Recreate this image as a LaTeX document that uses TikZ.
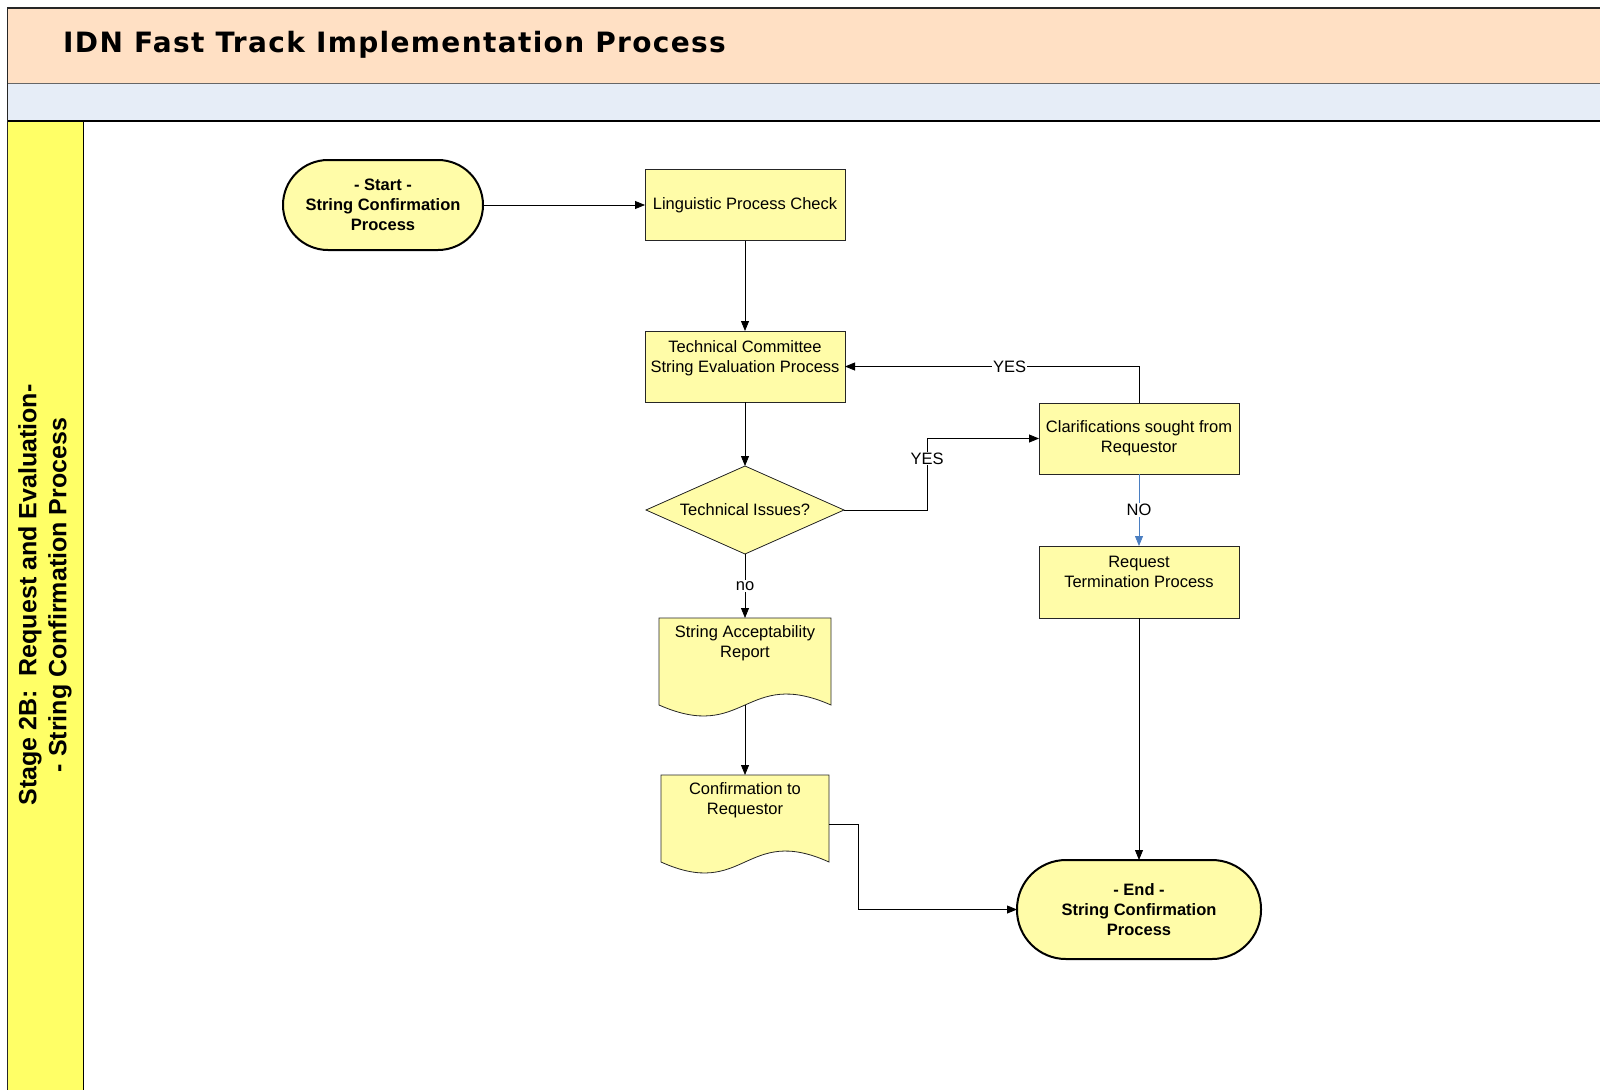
\documentclass[tikz,border=0pt]{standalone}
\usepackage{fontspec}
\setmainfont{Liberation Sans}
\newfontfamily\titlefont[LetterSpace=4.8]{DejaVu Sans}
\usetikzlibrary{arrows.meta,shapes.geometric,calc,backgrounds}
\definecolor{hdr}{HTML}{FFE0C4}
\definecolor{band}{HTML}{E6EDF7}
\definecolor{lanecol}{HTML}{FFFF66}
\definecolor{nodefill}{HTML}{FFFCA8}
\definecolor{noblue}{HTML}{4A7EC1}
\newcommand{\nfont}{\fontsize{16.5}{20}\selectfont}
\begin{document}
\begin{tikzpicture}[x=1pt,y=-1pt,
  proc/.style={rectangle, draw=black!85, line width=0.8pt, fill=nodefill, minimum width=200pt, minimum height=71pt, inner sep=0pt, outer sep=0pt, align=center, font=\nfont},
  term/.style={rectangle, draw=black, line width=2pt, fill=nodefill, inner sep=0pt, outer sep=0pt, align=center, font=\nfont\bfseries},
  dec/.style={diamond, aspect=2.25, draw=black!85, line width=0.8pt, fill=nodefill, minimum width=198pt, minimum height=88pt, inner sep=0pt, outer sep=0pt, font=\nfont},
  docn/.style={rectangle, minimum height=87pt, inner sep=0pt, outer sep=0pt, align=center, font=\nfont},
  docshape/.style={draw=black!85, line width=0.8pt, fill=nodefill},
  conn/.style={-{Triangle[length=10pt,width=8pt]}, line width=0.8pt, black},
  lbl/.style={fill=white, inner sep=1pt, font=\nfont}]
\useasboundingbox (0,0) rectangle (1600,1090);
% backgrounds
\fill[hdr] (8,8) rectangle (1600,83);
\fill[band] (8,83) rectangle (1600,121);
\fill[lanecol] (8,121) rectangle (83,1090);
\draw[line width=1pt, black!60] (8,83) -- (1600,83);
\draw[line width=1.4pt] (8,121) -- (1600,121);
\draw[line width=1pt] (83,121) -- (83,1090);
\draw[line width=1.4pt, black!85] (1600,8) -- (7.5,8) -- (7.5,1090);
% titles
\node[anchor=west, inner sep=0pt, font=\titlefont\bfseries\fontsize{28}{30}\selectfont] (title) at (63,45) {IDN Fast Track Implementation Process};
\node[rotate=90, align=center, inner sep=0pt, font=\bfseries\fontsize{25}{30}\selectfont] (lanelbl) at (45,595) {Stage 2B:\ \ Request and Evaluation-\\- String Confirmation Process};
% nodes
\node[term, minimum width=200pt, minimum height=90pt, rounded corners=45pt] (start) at (383,205) {- Start -\\String Confirmation\\Process};
\node[proc] (ling) at (745,205) {Linguistic Process Check};
\node[proc] (tc) at (745,366.5) {Technical Committee\\String Evaluation Process\\\mbox{}};
\node[dec] (dia) at (745,510) {Technical Issues?};
\node[docn, minimum width=172pt] (sar) at (745,661.5) {String Acceptability\\Report\\\mbox{}\\\mbox{}};
\node[docn, minimum width=168pt] (conf) at (745,818.5) {Confirmation to\\Requestor\\\mbox{}\\\mbox{}};
\node[proc] (clar) at (1139,438.5) {Clarifications sought from\\Requestor};
\node[proc, minimum height=72pt] (rtp) at (1139,582) {Request\\Termination Process\\\mbox{}};
\node[term, minimum width=244pt, minimum height=99pt, rounded corners=49pt] (endn) at (1139,909.5) {- End -\\String Confirmation\\Process};
% document shapes
\begin{scope}[on background layer]
\draw[docshape] (sar.south west) -- (sar.north west) -- (sar.north east) -- (sar.south east)
  .. controls ($(sar.south)+(0,-38)$) and ($(sar.south)+(0,38)$) .. (sar.south west) -- cycle;
\draw[docshape] (conf.south west) -- (conf.north west) -- (conf.north east) -- (conf.south east)
  .. controls ($(conf.south)+(0,-38)$) and ($(conf.south)+(0,38)$) .. (conf.south west) -- cycle;
\end{scope}
% connectors
\draw[conn] (start.east) -- (ling.west);
\draw[conn] (ling) -- (tc);
\draw[conn] (tc) -- (dia);
\draw[conn] (dia.east) -- ++(83,0) |- node[lbl, pos=0.36] {YES} (clar.west);
\draw[conn] (clar.north) |- node[lbl, pos=0.72] {YES} (tc.east);
\draw[-{Triangle[length=10pt,width=8pt]}, line width=0.8pt, noblue] (clar) -- node[lbl, text=black] {NO} (rtp);
\draw[conn] (dia.south) -- node[lbl] {no} (sar.north);
\draw[conn] (sar.south) -- (conf.north);
\draw[conn] ([yshift=-5.5pt]conf.east) -- ++(29,0) |- (endn.west);
\draw[conn] (rtp) -- (endn);
\end{tikzpicture}
\end{document}
